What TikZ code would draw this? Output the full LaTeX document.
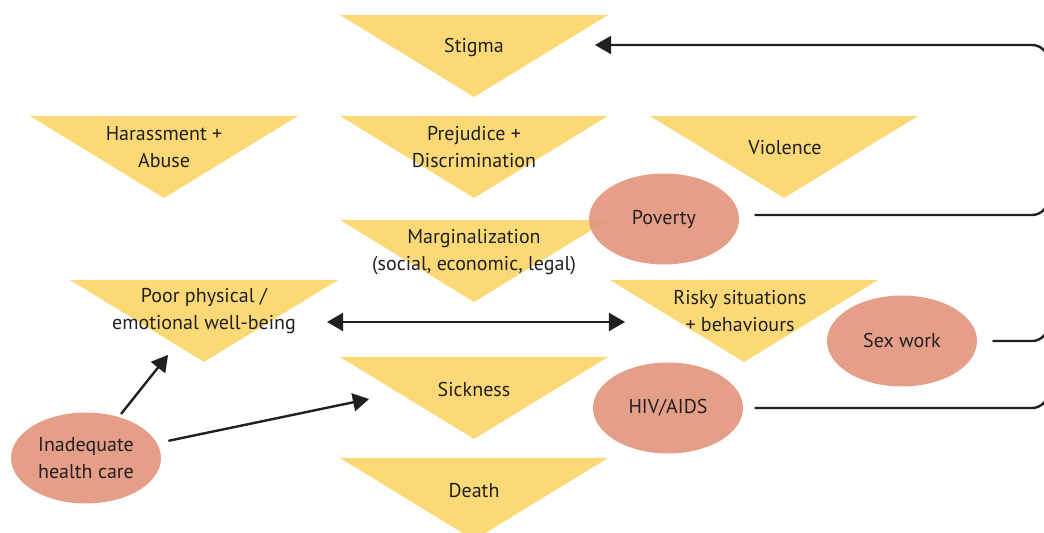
\documentclass[tikz,border=0pt]{standalone}
\usepackage{fontspec}
\setmainfont{PT Sans}
\usepackage{tikz}
\usetikzlibrary{arrows,shapes.geometric}

\definecolor{triyellow}{HTML}{FBD977}
\definecolor{ovalred}{HTML}{E3967E}
\definecolor{inkgray}{HTML}{231F20}

% triangle pointing down: top middle at (#1,#2)
\newcommand{\downtri}[2]{\fill[triyellow] (#1-134,#2) -- (#1+134,#2) -- (#1,#2+82) -- cycle;}

\begin{document}
\begin{tikzpicture}[line cap=round,line join=round,>=triangle 60,x=0.5pt,y=-0.5pt,
  txt/.style={align=center,text=inkgray,font=\fontsize{10}{13.5}\selectfont},
  oval/.style={ellipse,fill=ovalred,fill opacity=0.92,text opacity=1,minimum width=75pt,minimum height=45.5pt,inner sep=0pt,txt},
  link/.style={draw=inkgray,line width=1.2pt}]
\useasboundingbox (0,0) rectangle (1044,533);
\clip (0,0) rectangle (1044,533);
% triangles
\downtri{474}{15}
\downtri{164}{116}
\downtri{474}{116}
\downtri{784}{116}
\downtri{474}{220}
\downtri{204}{280}
\downtri{744}{280}
\downtri{474}{357}
\downtri{474}{458}
% texts
\node[txt] (stigma) at (474,48) {Stigma};
\node[txt] (harass) at (164,147) {Harassment +\\Abuse};
\node[txt] (prejud) at (474,147) {Prejudice +\\Discrimination};
\node[txt] (violence) at (785,148) {Violence};
\node[txt] (margin) at (474,252) {Marginalization\\(social, economic, legal)};
\node[txt] (poor) at (204,311) {Poor physical /\\emotional well-being};
\node[txt] (risky) at (740,311) {Risky situations\\+ behaviours};
\node[txt] (sick) at (474,390) {Sickness};
\node[txt] (death) at (474,491) {Death};
% ovals
\node[oval] (poverty) at (664,219) {Poverty};
\node[oval] (sexwork) at (902,341) {Sex work};
\node[oval] (hiv) at (668,408) {HIV/AIDS};
\node[oval] (care) at (86,458) {Inadequate\\health care};
% arrow ends
\coordinate (poortip) at (168,355);
\coordinate (sicktip) at (369,399);
\coordinate (stigmatip) at (595,45);
\coordinate (leftend) at (327,322);
\coordinate (rightend) at (625,322);
% connectors
\draw[link,->,shorten <=2pt] (care) -- (poortip);
\draw[link,->,shorten <=6pt] (care) -- (sicktip);
\draw[link,<->] (leftend) -- (rightend);
\draw[link,->,rounded corners=8pt] ([xshift=8pt,yshift=2pt]poverty.east) -| (1048,45) -- (stigmatip);
\draw[link,rounded corners=8pt] ([xshift=8pt]sexwork.east) -| (1048,200);
\draw[link,rounded corners=8pt] ([xshift=6pt]hiv.east) -| (1048,300);
\end{tikzpicture}
\end{document}
